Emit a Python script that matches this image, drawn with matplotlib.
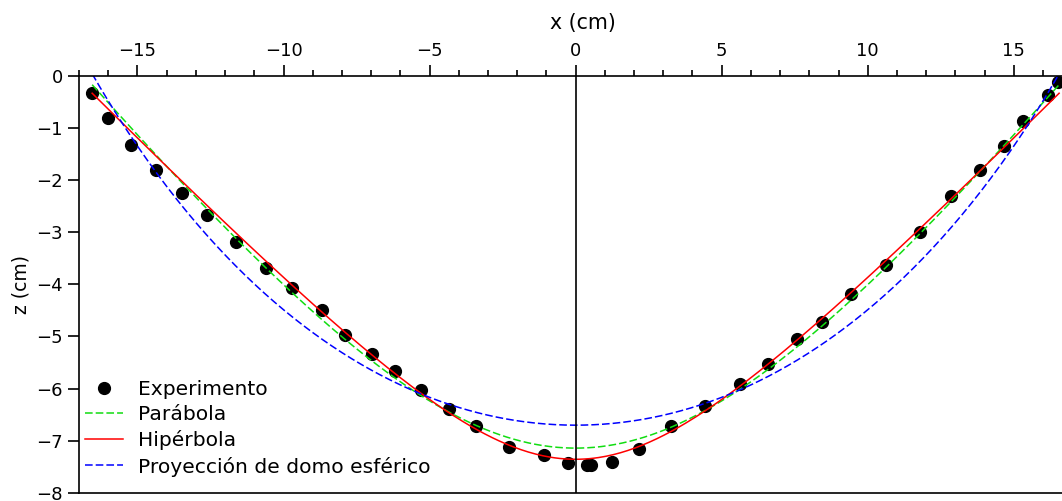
import matplotlib.pyplot as plt
import numpy as np
from matplotlib.ticker import MultipleLocator

# puntos medidos de la superficie (cm)
x_exp = [-16.54, -16.02, -15.23, -14.35, -13.48, -12.61, -11.62, -10.60, -9.70,
         -8.68, -7.90, -6.97, -6.20, -5.28, -4.35, -3.41, -2.27, -1.07, -0.27,
         0.40, 0.52, 1.25, 2.16, 3.27, 4.43, 5.61, 6.57, 7.59, 8.45, 9.44,
         10.62, 11.79, 12.85, 13.84, 14.66, 15.31, 16.17, 16.51]
z_exp = [-0.34, -0.82, -1.32, -1.81, -2.25, -2.67, -3.19, -3.68, -4.08,
         -4.49, -4.98, -5.34, -5.67, -6.03, -6.39, -6.71, -7.11, -7.27, -7.42,
         -7.46, -7.46, -7.41, -7.15, -6.72, -6.33, -5.91, -5.52, -5.05, -4.72, -4.18,
         -3.63, -2.99, -2.31, -1.81, -1.34, -0.87, -0.38, -0.12]

# parametros de los ajustes
par_z0, par_b, par_a = -7.14, 6.69, 9.3      # curva "parabola"
hip_z0, hip_b, hip_a = -7.354, 3.14, 5.38    # hiperbola
dom_z0, dom_r = -6.70, 23.7                  # domo esferico (radio)

x = np.linspace(-16.55, 16.55, 400)
z_par = par_z0 + par_b * (np.sqrt(1 + (x / par_a)**2) - 1)
z_hip = hip_z0 + hip_b * (np.sqrt(1 + (x / hip_a)**2) - 1)
z_dom = dom_z0 + dom_r - np.sqrt(dom_r**2 - x**2)

plt.rcParams['font.family'] = 'DejaVu Sans'

fig = plt.figure(figsize=(10.62, 5.01), dpi=100)
# el eje se sale un poco por la derecha
ax = fig.add_axes([0.0744, 0.016, 0.949, 0.833])

ax.plot(x_exp, z_exp, "o", color="black", markersize=8.5, label="Experimento")
ax.plot(x, z_par, color="#11dd11", lw=1.1, dashes=(5, 2), label="Parábola")
ax.plot(x, z_hip, color="red", lw=1.1, label="Hipérbola")
ax.plot(x, z_dom, color="blue", lw=1.1, dashes=(5, 2), label="Proyección de domo esférico")
ax.axvline(0, color="black", lw=1.2)

ax.set_xlim(-17, 17.5)
ax.set_ylim(-8, 0)
ax.xaxis.tick_top()
ax.xaxis.set_label_position('top')
ax.xaxis.set_major_locator(MultipleLocator(5))
ax.xaxis.set_minor_locator(MultipleLocator(1))
ax.tick_params(axis='x', which='major', length=8, width=1.2, direction='out', labelsize=13)
ax.tick_params(axis='x', which='minor', length=4, width=1.2, direction='out')
ax.tick_params(axis='y', which='major', length=8, width=1.2, direction='out', labelsize=13)
for s in ax.spines.values():
    s.set_linewidth(1.2)
ax.set_xlabel("x (cm)", fontsize=14.8, labelpad=9)
ax.set_ylabel("z (cm)", fontsize=13.5)

ax.legend(loc="lower left", frameon=False, numpoints=1, fontsize=14.6,
          labelspacing=0.31, handlelength=1.87, handletextpad=0.75,
          borderaxespad=0.1, bbox_to_anchor=(-0.004, 0.015))

fig.savefig("out.png", dpi=100)
